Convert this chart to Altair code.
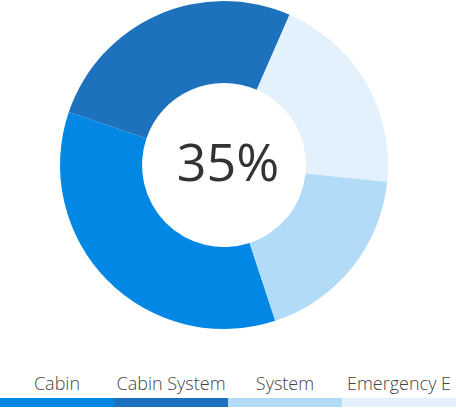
import altair as alt
import pandas as pd

# slices, clockwise starting at the Cabin slice
slice_names = ["Cabin", "Cabin System", "Emergency E 1", "Emergency E 2", "System"]
slice_groups = ["Cabin", "Cabin System", "Emergency E", "Emergency E", "System"]
slice_values = [35.3, 26.3, 13.2, 6.9, 18.3]

legend_labels = ["Cabin", "Cabin System", "System", "Emergency E"]
palette = ["#0288e4", "#1e72bd", "#b2dbf7", "#e3f1fc"]
center_text = "35%"

arc_df = pd.DataFrame({
    "slice": slice_names,
    "group": slice_groups,
    "value": slice_values,
    "order": list(range(len(slice_names))),
})
leg_df = pd.DataFrame({"label": legend_labels})

PI = 3.141592653589793
start = 161.8 * PI / 180
color_scale = alt.Scale(domain=legend_labels, range=palette)

arc = alt.Chart(arc_df).mark_arc(innerRadius=82, outerRadius=164).encode(
    theta=alt.Theta("value:Q", stack=True,
                    scale=alt.Scale(range=[start, start + 2 * PI])),
    color=alt.Color("group:N", scale=color_scale, legend=None),
    order=alt.Order("order:Q"),
    detail="slice:N",
    x=alt.value(224),
    y=alt.value(165),
)

center = alt.Chart(pd.DataFrame({"t": [center_text]})).mark_text(
    font="Open Sans", fontSize=52, fontWeight=500, color="#333333",
    baseline="middle", align="center"
).encode(text="t:N", x=alt.value(228), y=alt.value(165))

xs = alt.Scale(domain=legend_labels, range=[0, 456], paddingInner=0, paddingOuter=0)

bars = alt.Chart(leg_df).mark_bar(height=9).encode(
    x=alt.X("label:N", scale=xs, axis=None, sort=legend_labels),
    y=alt.value(402.5),
    color=alt.Color("label:N", scale=color_scale, legend=None),
)

labels = alt.Chart(leg_df).mark_text(
    font="Open Sans", fontSize=18, fontWeight=300, color="#444444",
    baseline="alphabetic", align="center"
).encode(
    x=alt.X("label:N", scale=xs, axis=None, sort=legend_labels, bandPosition=0.5),
    y=alt.value(390),
    text="label:N",
)

chart = alt.layer(arc, center, bars, labels).properties(
    width=456, height=409, padding=0, autosize=alt.AutoSizeParams(type="none")
).configure_view(stroke=None)

chart.save("out.html", embed_options={"renderer": "svg", "actions": False})
